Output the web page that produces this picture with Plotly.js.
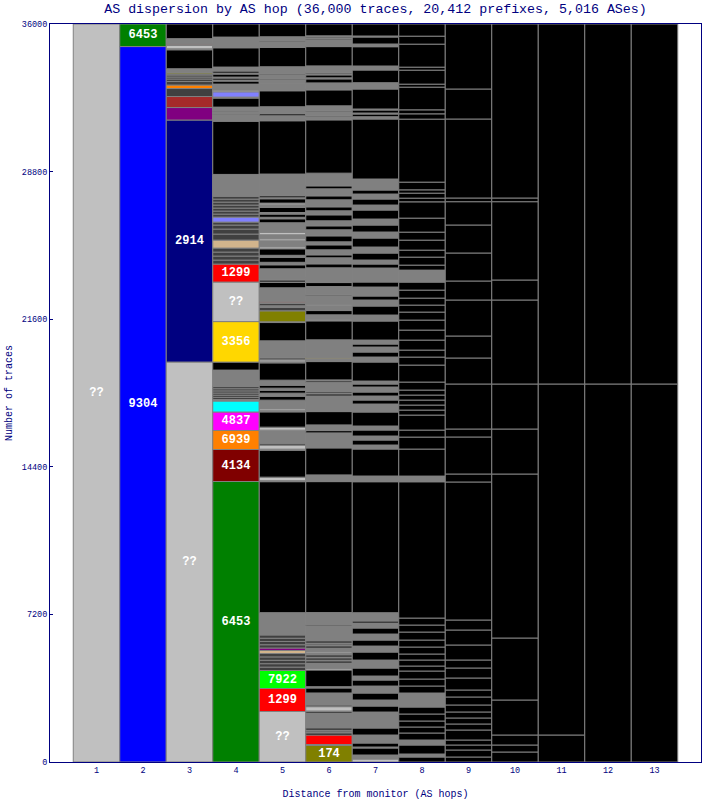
<!DOCTYPE html>
<html>
<head>
<meta charset="utf-8">
<script src="https://cdn.plot.ly/plotly-3.0.1.min.js"></script>
<style>html,body{margin:0;padding:0;background:#fff;}#chart{width:702px;height:800px;}</style>
</head>
<body>
<div id="chart"></div>
<script>
// ---- DATA (traces per AS segment, stacked bottom -> top, per AS hop) ----
// keys: AS numbers, '??' unknown, 'k' single other AS, 'g' many small ASes, 'd' other mid AS,
// asP/asB/asC/asL/asT other unlabeled ASes
const hops = [1,2,3,4,5,6,7,8,9,10,11,12,13];
const yTicks = [0, 7200, 14400, 21600, 28800, 36000];

const hop1 = [[36000,'??']];
const hop2 = [[34900,'9304'],[1100,'6453']];
const hop3 = [[19510,'??'],[11805,'2914'],[610,'asP'],[537,'asB'],[390,'d'],[171,'6939'],[171,'d'],[122,'d'],[98,'d'],[98,'d'],[49,'d'],[60,'174'],[195,'g'],[927,'k'],[49,'g'],[161,'??'],[49,'g'],[49,'1299'],[234,'g'],[715,'k']];
const hop4 = [[13683,'6453'],[1561,'4134'],[927,'6939'],[902,'4837'],[537,'asC'],[73,'g'],[105,'d'],[105,'d'],[105,'d'],[105,'d'],[105,'d'],[105,'d'],[805,'g'],[390,'k'],[1976,'3356'],[1927,'??'],[878,'1299'],[195,'d'],[195,'d'],[195,'d'],[195,'d'],[390,'asT'],[293,'d'],[244,'d'],[195,'d'],[146,'d'],[244,'asL'],[146,'d'],[146,'d'],[146,'d'],[146,'d'],[146,'d'],[146,'d'],[146,'d'],[1059,'g'],[2600,'k'],[293,'g'],[49,'d'],[98,'g'],[49,'d'],[195,'g'],[439,'k'],[49,'g'],[259,'asL'],[83,'??'],[293,'g'],[146,'k'],[49,'g'],[98,'k'],[49,'g'],[146,'k'],[49,'g'],[98,'k'],[195,'g'],[941,'k'],[522,'g'],[638,'k']];
const hop5 = [[2463,'??'],[1122,'1299'],[878,'7922'],[166,'d'],[166,'d'],[166,'d'],[166,'d'],[166,'d'],[146,'asT'],[122,'asP'],[159,'d'],[159,'d'],[159,'d'],[159,'d'],[1088,'g'],[6390,'k'],[49,'g'],[171,'??'],[1317,'k'],[49,'g'],[195,'??'],[98,'d'],[634,'g'],[146,'??'],[746,'k'],[83,'g'],[73,'??'],[415,'g'],[195,'k'],[146,'g'],[146,'k'],[98,'g'],[146,'k'],[244,'g'],[844,'k'],[49,'g'],[98,'??'],[98,'d'],[829,'g'],[893,'k'],[34,'g'],[537,'174'],[171,'d'],[73,'g'],[122,'d'],[49,'g'],[49,'1299'],[659,'g'],[259,'k'],[132,'d'],[63,'g'],[49,'??'],[424,'g'],[195,'k'],[122,'g'],[244,'k'],[98,'g'],[317,'k'],[98,'??'],[293,'g'],[98,'??'],[195,'g'],[122,'??'],[463,'g'],[195,'k'],[73,'g'],[156,'k'],[78,'g'],[244,'k'],[132,'g'],[83,'??'],[210,'k'],[49,'g'],[98,'k'],[1059,'g'],[2600,'k'],[244,'g'],[98,'k'],[341,'g'],[780,'k'],[341,'g'],[195,'g'],[49,'k'],[195,'g'],[49,'k'],[341,'g'],[941,'k'],[278,'g'],[49,'k'],[195,'g'],[624,'k']];
const hop6 = [[805,'174'],[49,'g'],[463,'1299'],[98,'k'],[49,'g'],[49,'k'],[49,'g'],[98,'k'],[732,'g'],[73,'k'],[24,'g'],[210,'??'],[83,'d'],[585,'g'],[244,'k'],[63,'g'],[815,'k'],[83,'??'],[259,'g'],[98,'k'],[49,'g'],[98,'k'],[49,'g'],[98,'k'],[98,'g'],[63,'??'],[180,'g'],[98,'k'],[49,'g'],[49,'k'],[49,'g'],[98,'k'],[49,'g'],[683,'g'],[49,'k'],[600,'g'],[6390,'k'],[327,'g'],[1317,'k'],[732,'g'],[112,'k'],[278,'g'],[649,'k'],[522,'g'],[244,'g'],[98,'k'],[49,'g'],[63,'k'],[439,'g'],[83,'k'],[49,'g'],[893,'k'],[156,'g'],[49,'3356'],[854,'g'],[927,'k'],[49,'??'],[244,'g'],[210,'k'],[229,'g'],[49,'??'],[439,'g'],[49,'k'],[405,'g'],[195,'k'],[717,'g'],[195,'k'],[293,'g'],[146,'k'],[244,'g'],[244,'k'],[146,'g'],[293,'k'],[293,'g'],[195,'k'],[244,'g'],[293,'k'],[195,'g'],[195,'k'],[341,'g'],[195,'k'],[341,'g'],[146,'k'],[620,'g'],[2600,'k'],[146,'g'],[49,'k'],[195,'g'],[49,'k'],[244,'g'],[780,'k'],[341,'g'],[195,'k'],[49,'g'],[146,'k'],[49,'g'],[49,'k'],[341,'g'],[941,'k'],[327,'g'],[49,'k'],[49,'g'],[49,'k'],[49,'g'],[579,'k']];
const hop7 = [[146,'??'],[195,'g'],[341,'k'],[49,'g'],[195,'k'],[390,'g'],[341,'k'],[780,'g'],[293,'k'],[293,'g'],[341,'k'],[341,'g'],[293,'k'],[195,'g'],[390,'k'],[390,'g'],[390,'k'],[293,'g'],[293,'k'],[293,'g'],[293,'k'],[244,'g'],[98,'k'],[405,'g'],[6390,'k'],[278,'g'],[1317,'k'],[195,'g'],[244,'k'],[195,'g'],[293,'k'],[195,'g'],[683,'k'],[390,'g'],[195,'k'],[195,'g'],[195,'k'],[244,'g'],[146,'k'],[146,'g'],[927,'k'],[244,'g'],[244,'k'],[244,'g'],[146,'k'],[195,'g'],[927,'k'],[293,'g'],[439,'k'],[293,'g'],[195,'k'],[439,'g'],[244,'k'],[683,'g'],[195,'k'],[195,'g'],[341,'k'],[293,'g'],[439,'k'],[293,'g'],[341,'k'],[293,'g'],[439,'k'],[244,'g'],[293,'k'],[244,'g'],[195,'k'],[537,'g'],[2927,'k'],[112,'g'],[132,'k'],[49,'g'],[146,'k'],[49,'g'],[976,'k'],[307,'g'],[620,'k'],[195,'g'],[941,'k'],[132,'g'],[341,'k'],[49,'g'],[586,'k']];
const hop8 = [[244,'k'],[146,'g'],[439,'k'],[244,'g'],[341,'k'],[293,'k'],[293,'k'],[341,'k'],[341,'k'],[683,'g'],[341,'k'],[341,'k'],[390,'k'],[244,'k'],[293,'k'],[293,'k'],[341,'k'],[341,'k'],[390,'k'],[341,'k'],[341,'k'],[6649,'k'],[278,'g'],[1317,'k'],[585,'k'],[341,'k'],[732,'k'],[244,'k'],[244,'k'],[244,'k'],[244,'k'],[244,'k'],[390,'k'],[829,'k'],[390,'k'],[341,'k'],[488,'k'],[488,'k'],[488,'k'],[390,'k'],[341,'k'],[341,'k'],[390,'k'],[390,'k'],[585,'g'],[244,'k'],[390,'k'],[341,'k'],[488,'k'],[390,'k'],[683,'k'],[795,'k'],[180,'k'],[244,'k'],[161,'k'],[376,'k'],[3073,'k'],[259,'k'],[195,'k'],[1107,'k'],[146,'k'],[683,'k'],[146,'k'],[1122,'k'],[390,'k'],[593,'k']];
const hop9 = [[244,'k'],[341,'k'],[244,'k'],[244,'k'],[488,'k'],[293,'k'],[293,'k'],[293,'k'],[341,'k'],[390,'k'],[341,'k'],[585,'k'],[488,'k'],[390,'k'],[732,'k'],[732,'k'],[488,'k'],[6732,'k'],[390,'k'],[1805,'k'],[390,'k'],[2195,'k'],[1268,'k'],[1073,'k'],[1756,'k'],[927,'k'],[1366,'k'],[1366,'k'],[1137,'k'],[180,'k'],[3854,'k'],[1463,'k'],[3171,'k']];
const hop10 = [[488,'k'],[341,'k'],[488,'k'],[1707,'k'],[3024,'k'],[8000,'k'],[2195,'k'],[2195,'k'],[4098,'k'],[976,'k'],[3820,'k'],[180,'k'],[8488,'k']];
const hop11 = [[1317,'k'],[17122,'k'],[17561,'k']];
const hop12 = [[18439,'k'],[17561,'k']];
const hop13 = [[18439,'k'],[17561,'k']];

// ---- STYLE ----
const colorOf = {'??':'#c0c0c0','6453':'#008000','9304':'#0000ff','2914':'#000080','1299':'#ff0000',
  '3356':'#ffd700','4837':'#ff00ff','6939':'#ff8000','4134':'#800000','7922':'#00ff00','174':'#808000',
  asP:'#800080', asB:'#a52a2a', asC:'#00ffff', asL:'#8080ff', asT:'#d2b48c', k:'#000000', g:'#808080', d:'#404040'};
const labelMin = 680;
const navy = '#000080';
const mono = 'Liberation Mono, DejaVu Sans Mono, monospace';

const columns = [hop1,hop2,hop3,hop4,hop5,hop6,hop7,hop8,hop9,hop10,hop11,hop12,hop13];
const xs=[], ys=[], bases=[], cols=[], texts=[];
columns.forEach((segs, i) => {
  let cum = 0;
  segs.forEach(([v, key]) => {
    xs.push(hops[i]); ys.push(v); bases.push(cum); cum += v;
    cols.push(colorOf[key]);
    const named = key === '??' || /^\d+$/.test(key);
    texts.push(named && v >= labelMin ? key : '');
  });
});

const trace = {
  type:'bar', x:xs, y:ys, base:bases, width:1,
  marker:{color:cols, line:{color:'#808080', width:1}},
  text:texts, textposition:'inside', insidetextanchor:'middle', textangle:0,
  constraintext:'none',
  textfont:{family:mono, size:12, color:'#ffffff', weight:'bold'},
  hoverinfo:'skip'
};

const layout = {
  width:702, height:800,
  margin:{l:50, r:1, t:24, b:38, pad:0},
  paper_bgcolor:'#ffffff', plot_bgcolor:'#ffffff',
  barmode:'overlay', showlegend:false,
  uniformtext:{mode:'show', minsize:12},
  title:{text:'AS dispersion by AS hop (36,000 traces, 20,412 prefixes, 5,016 ASes)',
    font:{family:mono, size:13.3, color:navy}, x:0.5, xref:'paper', xanchor:'center',
    y:0.99, yref:'container', yanchor:'middle'},
  xaxis:{range:[0,14], tickvals:hops, ticktext:hops.map(String), showgrid:false, zeroline:false,
    showline:true, linecolor:navy, linewidth:1, mirror:true, ticks:'',
    tickfont:{family:mono, size:8.5, color:navy},
    title:{text:'Distance from monitor (AS hops)', font:{family:mono, size:10, color:navy}, standoff:14}},
  yaxis:{range:[0,36000], tickvals:yTicks, ticktext:yTicks.map(String), showgrid:false, zeroline:false,
    showline:true, linecolor:navy, linewidth:1, mirror:true, ticks:'inside', ticklen:3, tickcolor:navy,
    tickfont:{family:mono, size:8.5, color:navy},
    title:{text:'Number of traces', font:{family:mono, size:10, color:navy}, standoff:7}}
};

Plotly.newPlot('chart', [trace], layout, {staticPlot:true, displayModeBar:false});
</script>
</body>
</html>
